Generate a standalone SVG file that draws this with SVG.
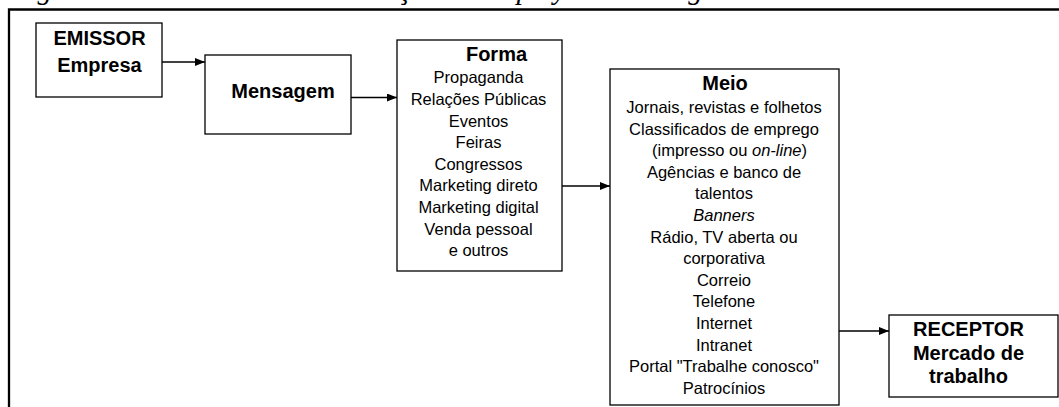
<svg xmlns="http://www.w3.org/2000/svg" width="1059" height="407" viewBox="0 0 1059 407">
<style>
.box{fill:#fff;stroke:#000;stroke-width:1.3}
.b{font-family:"Liberation Sans",Arial,sans-serif;font-weight:bold;font-size:20px;text-anchor:middle;fill:#000}
.t{font-family:"Liberation Sans",Arial,sans-serif;font-size:16.5px;text-anchor:middle;fill:#000}
.conn{stroke:#000;stroke-width:1.3;fill:none;marker-end:url(#arr)}
.cap{font-family:"Liberation Serif","Times New Roman",serif;font-style:italic;font-size:28.7px;fill:#000}
</style>
<defs>
<marker id="arr" markerUnits="userSpaceOnUse" markerWidth="10" markerHeight="8" refX="10" refY="4" orient="auto">
<path d="M0,0 L10,4 L0,8 z" fill="#000"/>
</marker>
</defs>
<rect width="1059" height="407" fill="#fff"/>
<text class="cap" x="12" y="-1">Figura 3 – Processo de comunicação no employer branding</text>
<path d="M9,407 V9.5 H1059" fill="none" stroke="#000" stroke-width="2.3"/>
<g id="connectors">
<path class="conn" d="M162,62 H205"/>
<path class="conn" d="M351,97.5 H397"/>
<path class="conn" d="M562,186 H610"/>
<path class="conn" d="M839,331 H889"/>
</g>
<g id="emissor">
<rect class="box" x="36" y="23" width="126" height="74"/>
<text class="b" x="99.5" y="45">EMISSOR</text>
<text class="b" x="99.5" y="71.5">Empresa</text>
</g>
<g id="mensagem">
<rect class="box" x="205" y="55" width="146" height="79"/>
<text class="b" x="283" y="98">Mensagem</text>
</g>
<g id="forma">
<rect class="box" x="397" y="40" width="165" height="231"/>
<text class="b" x="496.5" y="61">Forma</text>
<text class="t" x="478.5" y="83.3">Propaganda</text>
<text class="t" x="478.5" y="104.9">Relações Públicas</text>
<text class="t" x="478.5" y="126.5">Eventos</text>
<text class="t" x="478.5" y="148.1">Feiras</text>
<text class="t" x="478.5" y="169.7">Congressos</text>
<text class="t" x="478.5" y="191.3">Marketing direto</text>
<text class="t" x="478.5" y="212.9">Marketing digital</text>
<text class="t" x="478.5" y="234.5">Venda pessoal</text>
<text class="t" x="478.5" y="256.1">e outros</text>
</g>
<g id="meio">
<rect class="box" x="610" y="69" width="229" height="336"/>
<text class="b" x="725" y="90">Meio</text>
<text class="t" x="724" y="113">Jornais, revistas e folhetos</text>
<text class="t" x="724" y="134.6">Classificados de emprego</text>
<text class="t" x="729.5" y="156.2">(impresso ou <tspan font-style="italic">on-line</tspan>)</text>
<text class="t" x="724" y="177.8">Agências e banco de</text>
<text class="t" x="724" y="199.4">talentos</text>
<text class="t" x="724" y="221" font-style="italic">Banners</text>
<text class="t" x="724" y="242.6">Rádio, TV aberta ou</text>
<text class="t" x="724" y="264.2">corporativa</text>
<text class="t" x="724" y="285.8">Correio</text>
<text class="t" x="724" y="307.4">Telefone</text>
<text class="t" x="724" y="329">Internet</text>
<text class="t" x="724" y="350.6">Intranet</text>
<text class="t" x="724" y="372.2">Portal "Trabalhe conosco"</text>
<text class="t" x="724" y="393.8">Patrocínios</text>
</g>
<g id="receptor">
<rect class="box" x="889" y="315" width="169" height="82"/>
<text class="b" x="968.5" y="336">RECEPTOR</text>
<text class="b" x="968.5" y="359.5">Mercado de</text>
<text class="b" x="968.5" y="383">trabalho</text>
</g>
</svg>
